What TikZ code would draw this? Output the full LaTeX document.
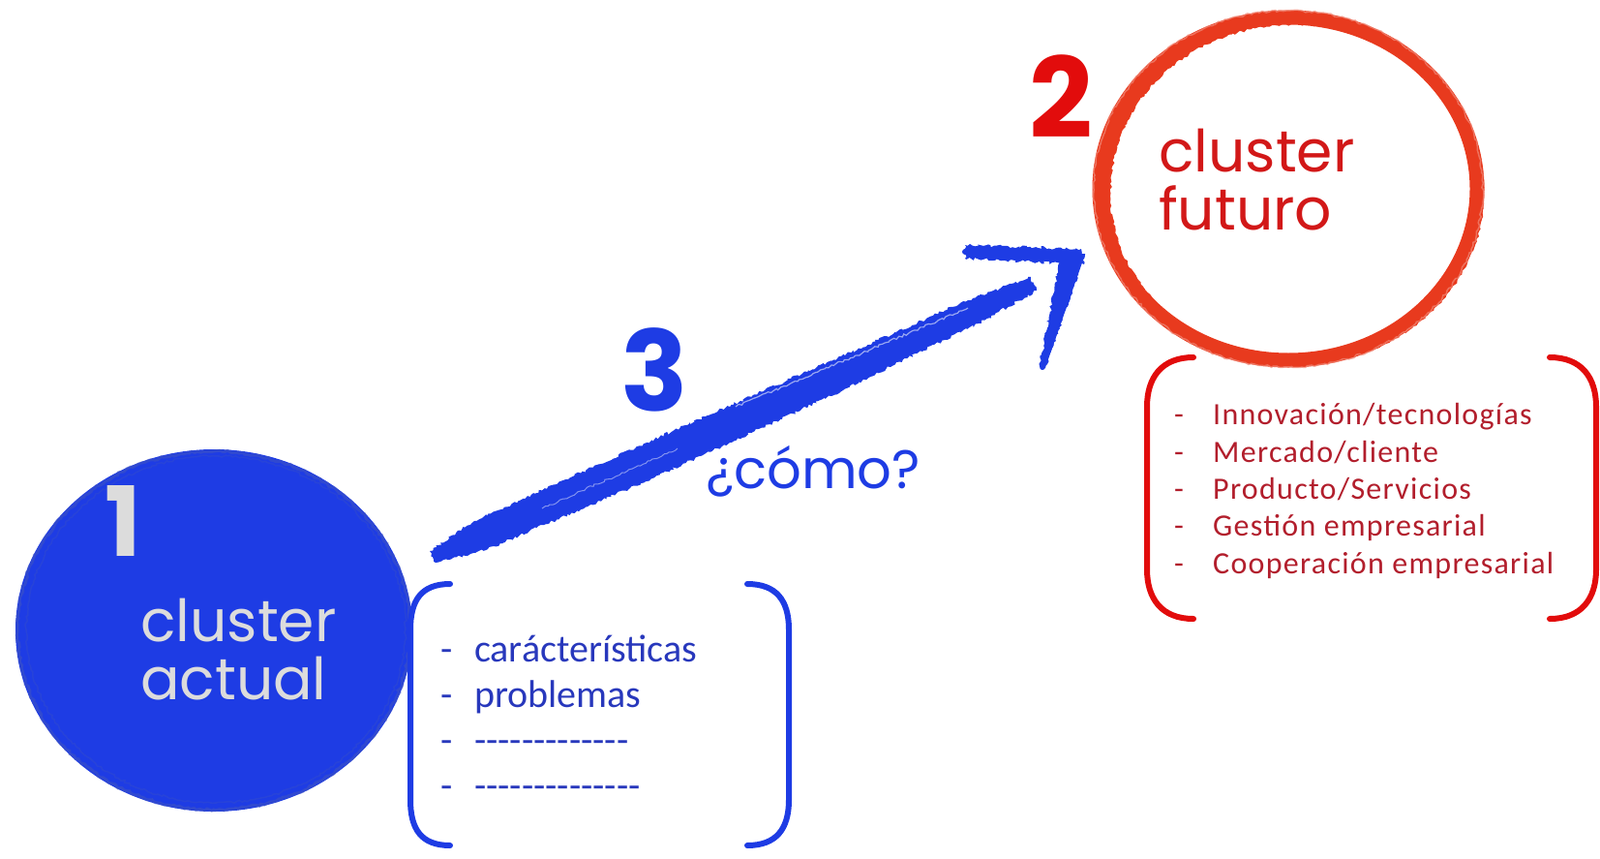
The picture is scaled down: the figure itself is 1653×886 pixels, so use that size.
\documentclass[tikz,border=0pt]{standalone}
\usepackage{fontspec}
\setmainfont{Carlito}
\newfontfamily\handfont{Poppins}
\newfontfamily\listfont{Carlito}
\newfontfamily\redlistfont{Carlito}[LetterSpace=4]
\usetikzlibrary{shapes.geometric,decorations.pathmorphing,calc}
\definecolor{brushblue}{RGB}{30,60,228}
\definecolor{ringred}{RGB}{232,58,30}
\definecolor{numred}{RGB}{226,12,12}
\definecolor{txtred}{RGB}{210,24,24}
\definecolor{listred}{RGB}{178,30,44}
\definecolor{listblue}{RGB}{40,56,188}
\definecolor{chalk}{RGB}{220,220,220}
\newcommand\hy{-\kern0pt}
\begin{document}
\begin{tikzpicture}[x=1pt,y=-1pt,
  handtxt/.style={font=\handfont\fontsize{60}{60}\selectfont, align=left, inner sep=0pt},
  bignum/.style={font=\handfont\bfseries\fontsize{115}{115}\selectfont, inner sep=0pt},
  blueitem/.style={font=\listfont\fontsize{40}{47}\selectfont, text=listblue, anchor=base west, inner sep=0pt},
  reditem/.style={font=\redlistfont\fontsize{32}{38}\selectfont, text=listred, anchor=base west, inner sep=0pt},
  bluebracket/.style={draw=brushblue, line width=6pt, line cap=round},
  redbracket/.style={draw=numred, line width=6pt, line cap=round},
  rough/.style={decorate, decoration={random steps, segment length=3pt, amplitude=1.2pt}},
  brush/.style={fill=brushblue, decorate, decoration={random steps, segment length=2.5pt, amplitude=1.6pt}}]
\useasboundingbox (0,0) rectangle (1653,886);

% ---------- circle 1 (current cluster)
\node[ellipse, fill=brushblue, minimum width=410pt, minimum height=374pt, inner sep=0pt] (current) at (221,651) {};
\draw[rough, draw=brushblue!65!gray, line width=3pt, opacity=0.55] (221,651) ellipse [x radius=203, y radius=185];
\draw[rough, draw=brushblue!80!gray, line width=1.5pt, opacity=0.5] (223,650) ellipse [x radius=196, y radius=179];
\node[bignum, font=\handfont\bfseries\fontsize{100}{100}\selectfont, text=chalk] (one) at (127,538) {1};
\node[handtxt, text=chalk, anchor=west] (curtxt) at (145,671) {cluster\\actual};

% ---------- circle 2 (future cluster)
\node[ellipse, draw=ringred, line width=15pt, minimum width=390pt, minimum height=354pt, inner sep=0pt] (future) at (1331,195) {};
\draw[rough, draw=ringred, line width=6pt] (1337,198) ellipse [x radius=193, y radius=176];
\draw[rough, draw=ringred!60!white, line width=1.5pt, opacity=0.7] (1331,195) ellipse [x radius=201, y radius=184];
\node[bignum, text=numred] (two) at (1096,100) {2};
\node[handtxt, text=txtred, anchor=west] (futtxt) at (1197,186) {cluster\\futuro};

% ---------- arrow 3
\coordinate (arrowStart) at (447,575);
\coordinate (shaftEnd) at (1068,293);
\coordinate (arrowTip) at (1117,265);
\coordinate (headL) at (997,260);
\coordinate (headB) at (1077,379);
\draw[brushblue, line width=4pt] (arrowStart) -- (shaftEnd);
\fill[brush] (444,569) -- (490,538) -- (657,462) -- (844,379) -- (1000,310) -- (1065,286)
  -- (1071,300) -- (1011,334) -- (858,409) -- (672,495) -- (504,567) -- (450,581) -- cycle;
\draw[rough, white, line width=1.2pt, opacity=0.55] (760,420) -- (1000,318);
\draw[rough, white, line width=1pt, opacity=0.45] (560,525) -- (700,463);
\fill[brush] (997,253) -- (1117,257) -- (1120,273) -- (997,267) -- cycle;
\fill[brush] (1095,268) -- (1121,262) -- (1080,380) -- (1074,378) -- cycle;
\draw[brushblue, line width=6pt, line cap=round] (headL) -- (arrowTip) -- (headB);
\node[bignum, text=brushblue] (three) at (676,382) {3};
\node[handtxt, text=brushblue, font=\handfont\fontsize{56}{56}\selectfont] (como) at (840,487) {¿cómo?};

% ---------- blue list
\draw[bluebracket] (465,603) .. controls (435,603) and (424,620) .. (424,650) -- (424,826) .. controls (424,856) and (435,873) .. (465,873);
\draw[bluebracket] (772,603) .. controls (802,603) and (815,620) .. (815,650) -- (815,826) .. controls (815,856) and (802,873) .. (772,873);
\node[blueitem] (b1) at (455,683) {\makebox[35pt][l]{-}carácterísticas};
\node[blueitem] (b2) at (455,730) {\makebox[35pt][l]{-}problemas};
\node[blueitem] (b3) at (455,777) {\makebox[35pt][l]{-}\hy\hy\hy\hy\hy\hy\hy\hy\hy\hy\hy\hy\hy};
\node[blueitem] (b4) at (455,824) {\makebox[35pt][l]{-}\hy\hy\hy\hy\hy\hy\hy\hy\hy\hy\hy\hy\hy\hy};

% ---------- red list
\draw[redbracket] (1233,369) .. controls (1200,369) and (1185,390) .. (1185,420) -- (1185,588) .. controls (1185,618) and (1200,639) .. (1233,639);
\draw[redbracket] (1601,369) .. controls (1634,369) and (1649,390) .. (1649,420) -- (1649,588) .. controls (1649,618) and (1634,639) .. (1601,639);
\node[reditem] (r1) at (1213,438) {\makebox[40pt][l]{-}Innovación/tecnologías};
\node[reditem] (r2) at (1213,477) {\makebox[40pt][l]{-}Mercado/cliente};
\node[reditem] (r3) at (1213,515) {\makebox[40pt][l]{-}Producto/Servicios};
\node[reditem] (r4) at (1213,553) {\makebox[40pt][l]{-}Gestión empresarial};
\node[reditem] (r5) at (1213,592) {\makebox[40pt][l]{-}Cooperación empresarial};
\end{tikzpicture}
\end{document}
